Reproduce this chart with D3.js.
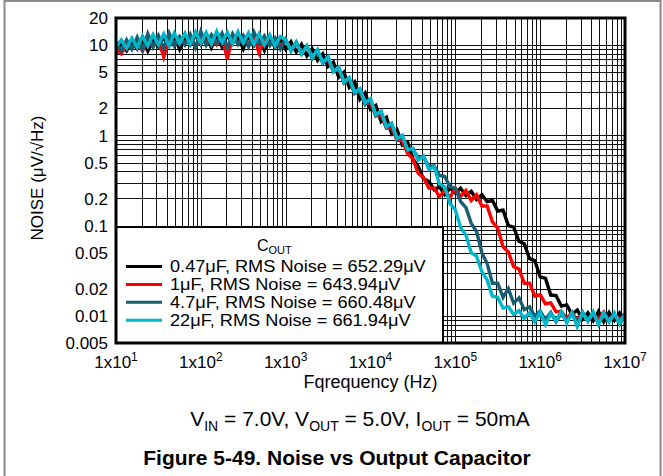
<!DOCTYPE html>
<html>
<head>
<meta charset="utf-8">
<script src="https://cdnjs.cloudflare.com/ajax/libs/d3/7.8.5/d3.min.js"></script>
<style>
  body { margin: 0; background: #fff; }
  text { font-family: "Liberation Sans", Arial, sans-serif; fill: #000; }
</style>
</head>
<body>
<script>
// frequency points (Hz), 16 per decade
var freqs = [
  10, 11.55, 13.34, 15.4, 17.78, 20.54, 23.71, 27.38, 31.62, 36.52, 42.17, 48.7, 56.23, 64.94, 74.99, 86.6,
  100, 115.5, 133.4, 154, 177.8, 205.4, 237.1, 273.8, 316.2, 365.2, 421.7, 487, 562.3, 649.4, 749.9, 866,
  1000, 1155, 1334, 1540, 1778, 2054, 2371, 2738, 3162, 3652, 4217, 4870, 5623, 6494, 7499, 8660,
  10000, 11550, 13340, 15400, 17780, 20540, 23710, 27380, 31620, 36520, 42170, 48700, 56230, 64940, 74990, 86600,
  100000, 115500, 133400, 154000, 177800, 205400, 237100, 273800, 316200, 365200, 421700, 487000, 562300, 649400, 749900, 866000,
  1000000, 1155000, 1334000, 1540000, 1778000, 2054000, 2371000, 2738000, 3162000, 3652000, 4217000, 4870000, 5623000, 6494000, 7499000, 8660000,
  10000000
];

// noise density (uV/rtHz)
var cout047 = [
  8.0, 10.6, 8.7, 10.9, 9.1, 11.8, 8.6, 11.5, 9.6, 12.2, 9.8, 12.6, 9.0, 12.4, 10.1, 13.0,
  10.2, 12.8, 9.4, 13.1, 9.6, 12.9, 10.5, 12.6, 9.1, 12.8, 9.9, 12.4, 8.8, 12.1, 9.5, 11.6,
  9.0, 10.9, 8.4, 10.2, 7.6, 9.1, 6.8, 8.0, 5.8, 6.5, 4.4, 5.0, 3.4, 3.9, 2.5, 2.95,
  1.95, 2.15, 1.42, 1.58, 1.04, 1.16, 0.78, 0.84, 0.55, 0.45, 0.33, 0.31, 0.25, 0.27, 0.22, 0.26,
  0.23, 0.26, 0.215, 0.24, 0.195, 0.22, 0.185, 0.19, 0.145, 0.148, 0.1, 0.096, 0.067, 0.063, 0.043, 0.041,
  0.027, 0.026, 0.017, 0.0168, 0.0128, 0.0132, 0.0104, 0.0116, 0.0092, 0.0108, 0.0088, 0.0112, 0.0086, 0.0109, 0.0089, 0.0108,
  0.0092
];
var cout1 = [
  9.0, 8.0, 10.4, 9.2, 10.8, 8.6, 11.2, 9.7, 11.6, 7.4, 11.9, 10.0, 12.3, 10.3, 12.5, 9.5,
  12.6, 10.6, 12.9, 10.2, 12.7, 7.0, 12.8, 10.4, 12.6, 10.3, 12.5, 8.2, 12.1, 10.0, 11.7, 9.7,
  11.2, 9.0, 10.5, 8.2, 9.6, 7.5, 8.4, 6.6, 6.8, 5.2, 5.3, 4.0, 4.1, 3.0, 3.0, 2.25,
  2.3, 1.65, 1.68, 1.2, 1.22, 0.88, 0.88, 0.63, 0.55, 0.38, 0.34, 0.26, 0.26, 0.21, 0.245, 0.205,
  0.26, 0.21, 0.245, 0.19, 0.22, 0.165, 0.165, 0.11, 0.094, 0.058, 0.051, 0.035, 0.033, 0.023, 0.023, 0.0165,
  0.0172, 0.0136, 0.0139, 0.0111, 0.0112, 0.0093, 0.0109, 0.0089, 0.0107, 0.0087, 0.0106, 0.0091, 0.0110, 0.0088, 0.0104, 0.0090,
  0.0102
];
var cout47 = [
  10.8, 8.6, 11.4, 9.0, 12.2, 8.8, 13.4, 9.5, 12.8, 9.2, 13.6, 9.8, 12.4, 10.1, 13.2, 9.4,
  14.2, 10.0, 13.0, 10.5, 13.5, 9.3, 13.3, 10.2, 12.7, 9.6, 14.0, 10.3, 12.6, 9.9, 12.0, 9.1,
  11.6, 8.6, 10.8, 8.0, 9.8, 7.1, 8.8, 6.3, 7.3, 5.1, 5.6, 3.8, 4.2, 2.9, 3.2, 2.2,
  2.5, 1.65, 1.8, 1.22, 1.32, 0.92, 0.98, 0.7, 0.7, 0.57, 0.58, 0.45, 0.46, 0.36, 0.35, 0.27,
  0.26, 0.185, 0.158, 0.106, 0.086, 0.05, 0.038, 0.023, 0.023, 0.016, 0.02, 0.0138, 0.0158, 0.0117, 0.0126, 0.0099,
  0.0113, 0.0091, 0.0109, 0.0086, 0.0107, 0.0089, 0.0106, 0.0083, 0.0110, 0.0090, 0.0105, 0.0082, 0.0108, 0.0088, 0.0103, 0.0081,
  0.0105
];
var cout22 = [
  9.6, 11.4, 9.2, 12.0, 9.4, 12.6, 9.8, 13.1, 10.1, 13.3, 9.9, 13.6, 10.4, 13.5, 10.2, 14.0,
  10.5, 13.8, 10.3, 14.2, 10.7, 13.9, 10.4, 14.1, 10.6, 13.7, 10.2, 13.4, 10.0, 13.0, 9.8, 12.5,
  11.4, 8.7, 10.8, 8.0, 9.8, 7.3, 8.9, 6.4, 7.4, 5.1, 5.7, 3.9, 4.4, 3.0, 3.3, 2.3,
  2.55, 1.7, 1.86, 1.25, 1.37, 0.92, 1.0, 0.69, 0.72, 0.53, 0.59, 0.42, 0.45, 0.29, 0.27, 0.175,
  0.15, 0.095, 0.078, 0.05, 0.046, 0.031, 0.025, 0.0165, 0.016, 0.0122, 0.0126, 0.0104, 0.0114, 0.0094, 0.0108, 0.0086,
  0.0110, 0.0080, 0.0106, 0.0088, 0.0112, 0.0083, 0.0108, 0.0076, 0.0109, 0.0087, 0.0111, 0.0080, 0.0107, 0.0085, 0.0108, 0.0082,
  0.0106
];

var seriesCaps = ["0.47", "1", "4.7", "22"];
var seriesRms = ["652.29", "643.94", "660.48", "661.94"];
var seriesColors = ["#000000", "#ff0000", "#185d70", "#00b6cb"];

var yTicks = [20, 10, 5, 2, 1, 0.5, 0.2, 0.1, 0.05, 0.02, 0.01, 0.005];
var yTickLabels = ["20", "10", "5", "2", "1", "0.5", "0.2", "0.1", "0.05", "0.02", "0.01", "0.005"];
var xTicks = [1e1, 1e2, 1e3, 1e4, 1e5, 1e6, 1e7];
var xTickExps = ["1", "2", "3", "4", "5", "6", "7"];

var margin = { top: 18, right: 38, bottom: 133, left: 116 },
  width = 663 - margin.left - margin.right,
  height = 476 - margin.top - margin.bottom;

var root = d3
  .select("body")
  .append("svg")
  .attr("width", 663)
  .attr("height", 476);

// outer grey frame
root
  .append("rect")
  .attr("x", 4.5)
  .attr("y", 1)
  .attr("width", 656)
  .attr("height", 480)
  .attr("fill", "none")
  .attr("stroke", "#8a8a8a")
  .attr("stroke-width", 2);

var svg = root
  .append("g")
  .attr("transform", "translate(" + margin.left + "," + margin.top + ")");

var x = d3.scaleLog().domain([10, 1e7]).range([0, width]);
var y = d3.scaleLog().domain([0.005, 20]).range([height, 0]);

// log grid
var xGrid = [];
for (var e = 1; e < 7; e++) {
  for (var k = 1; k < 10; k++) xGrid.push(k * Math.pow(10, e));
}
var yGrid = [];
for (var e2 = -3; e2 < 2; e2++) {
  for (var k2 = 1; k2 < 10; k2++) {
    var gv = k2 * Math.pow(10, e2);
    if (gv >= 0.005 && gv <= 20) yGrid.push(gv);
  }
}

svg
  .append("g")
  .selectAll("line")
  .data(xGrid)
  .enter()
  .append("line")
  .attr("x1", function (d) { return Math.round(x(d)) + 0.5; })
  .attr("x2", function (d) { return Math.round(x(d)) + 0.5; })
  .attr("y1", 0)
  .attr("y2", height)
  .attr("stroke", "#111")
  .attr("stroke-width", 1);

svg
  .append("g")
  .selectAll("line")
  .data(yGrid)
  .enter()
  .append("line")
  .attr("y1", function (d) { return Math.round(y(d)) + 0.5; })
  .attr("y2", function (d) { return Math.round(y(d)) + 0.5; })
  .attr("x1", 0)
  .attr("x2", width)
  .attr("stroke", "#111")
  .attr("stroke-width", 1);

svg
  .append("clipPath")
  .attr("id", "plotclip")
  .append("rect")
  .attr("width", width)
  .attr("height", height);

var seriesData = [cout047, cout1, cout47, cout22].map(function (vals, i) {
  return {
    color: seriesColors[i],
    points: vals.map(function (v, j) { return { f: freqs[j], v: v }; })
  };
});

var line = d3
  .line()
  .x(function (d) { return x(d.f); })
  .y(function (d) { return y(d.v); });

svg
  .append("g")
  .attr("clip-path", "url(#plotclip)")
  .selectAll("path")
  .data(seriesData)
  .enter()
  .append("path")
  .attr("d", function (d) { return line(d.points); })
  .attr("fill", "none")
  .attr("stroke", function (d) { return d.color; })
  .attr("stroke-width", 3.4)
  .attr("stroke-linejoin", "miter");

// legend box
var lg = svg.append("g").attr("transform", "translate(0,209)");
lg.append("rect")
  .attr("x", 0)
  .attr("y", 0)
  .attr("width", 327)
  .attr("height", height - 209)
  .attr("fill", "#fff")
  .attr("stroke", "#000")
  .attr("stroke-width", 2);

var lt = lg.append("text")
  .attr("x", 141)
  .attr("y", 24)
  .style("font-size", "16px");
lt.append("tspan").text("C");
lt.append("tspan").attr("dy", 3).style("font-size", "11px").text("OUT");

var rows = lg
  .selectAll(".row")
  .data(seriesCaps)
  .enter()
  .append("g")
  .attr("class", "row")
  .attr("transform", function (d, i) { return "translate(0," + (45 + i * 17.9) + ")"; });

rows.append("line")
  .attr("x1", 10)
  .attr("x2", 46)
  .attr("y1", -5.5)
  .attr("y2", -5.5)
  .attr("stroke", function (d, i) { return seriesColors[i]; })
  .attr("stroke-width", 3);

// the reference lettering is a little wider than Arial, so stretch it
rows.append("text")
  .attr("x", 54)
  .attr("y", 0)
  .style("font-size", "15.8px")
  .text(function (d, i) {
    return d + "\u03bcF, RMS Noise = " + seriesRms[i] + "\u03bcV";
  })
  .attr("lengthAdjust", "spacingAndGlyphs")
  .attr("textLength", function () { return this.getComputedTextLength() * 1.15; });

// plot frame
svg
  .append("rect")
  .attr("width", width)
  .attr("height", height)
  .attr("fill", "none")
  .attr("stroke", "#000")
  .attr("stroke-width", 3);

// y tick labels
svg
  .append("g")
  .selectAll("text")
  .data(yTicks)
  .enter()
  .append("text")
  .attr("x", -8)
  .attr("y", function (d) { return y(d); })
  .attr("dy", "0.36em")
  .style("text-anchor", "end")
  .style("font-size", "17px")
  .text(function (d, i) { return yTickLabels[i]; });

// x tick labels
var xl = svg
  .append("g")
  .selectAll("text")
  .data(xTicks)
  .enter()
  .append("text")
  .attr("x", function (d) { return x(d); })
  .attr("y", height + 25)
  .style("text-anchor", "middle")
  .style("font-size", "17px");
xl.append("tspan").text("1x10");
xl.append("tspan")
  .attr("dy", -7)
  .style("font-size", "12px")
  .text(function (d, i) { return xTickExps[i]; });

svg
  .append("text")
  .attr("x", width / 2)
  .attr("y", height + 45)
  .style("text-anchor", "middle")
  .style("font-size", "18px")
  .text("Fqrequency (Hz)");

svg
  .append("text")
  .attr("transform", "rotate(-90)")
  .attr("x", -160)
  .attr("y", -73)
  .style("text-anchor", "middle")
  .style("font-size", "17px")
  .text("NOISE (\u03bcV/\u221aHz)");

// conditions line
var cond = root
  .append("text")
  .attr("x", 360)
  .attr("y", 426)
  .style("text-anchor", "middle")
  .style("font-size", "21px");
cond.append("tspan").text("V");
cond.append("tspan").attr("dy", 5).style("font-size", "14px").text("IN");
cond.append("tspan").attr("dy", -5).text(" = 7.0V, V");
cond.append("tspan").attr("dy", 5).style("font-size", "14px").text("OUT");
cond.append("tspan").attr("dy", -5).text(" = 5.0V, I");
cond.append("tspan").attr("dy", 5).style("font-size", "14px").text("OUT");
cond.append("tspan").attr("dy", -5).text(" = 50mA");

root
  .append("text")
  .attr("x", 337)
  .attr("y", 465)
  .style("text-anchor", "middle")
  .style("font-size", "21px")
  .style("font-weight", "bold")
  .text("Figure 5-49. Noise vs Output Capacitor");
</script>
</body>
</html>
